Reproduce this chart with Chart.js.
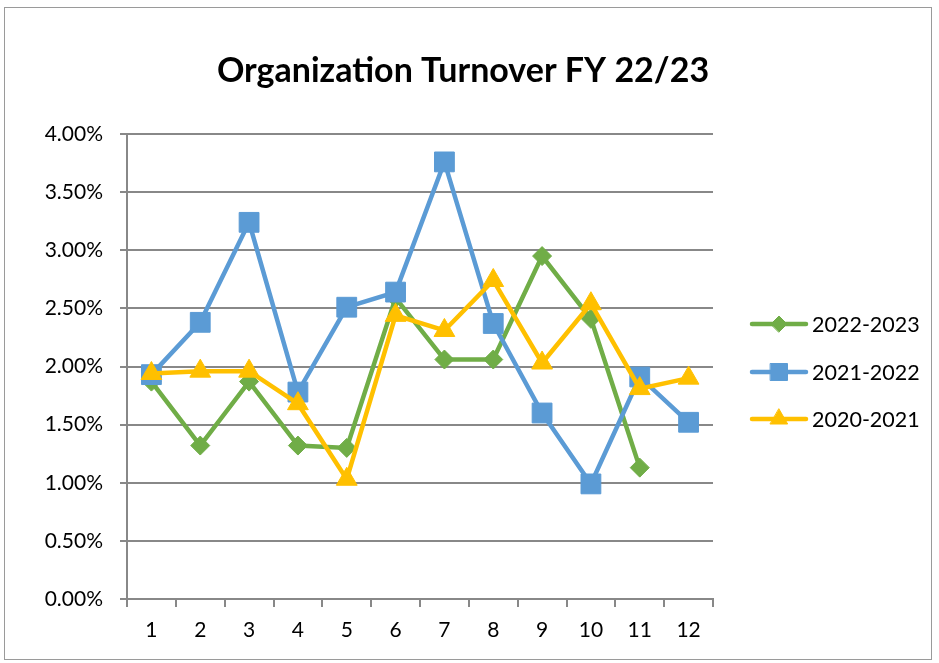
<!DOCTYPE html>
<html>
<head>
<meta charset="utf-8">
<script src="https://cdn.jsdelivr.net/npm/chart.js@4.4.1/dist/chart.umd.min.js"></script>
<style>
html,body{margin:0;padding:0;background:#fff;}
#wrap{width:939px;height:663px;position:relative;}
</style>
</head>
<body>
<div id="wrap"><canvas id="c" width="939" height="663"></canvas></div>
<script>
const chartTitle = "Organization Turnover FY 22/23";
const months = ["1","2","3","4","5","6","7","8","9","10","11","12"];
const seriesNames = ["2022-2023","2021-2022","2020-2021"];
const fy2223 = [1.87,1.32,1.87,1.32,1.30,2.59,2.06,2.06,2.95,2.41,1.13,null];
const fy2122 = [1.93,2.38,3.24,1.78,2.51,2.64,3.76,2.37,1.60,0.99,1.91,1.52];
const fy2021 = [1.94,1.96,1.96,1.68,1.03,2.44,2.31,2.74,2.03,2.54,1.81,1.90];

const colors = ["#70AD47","#5B9BD5","#FFC000"];
const shapes = ["rectRot","rect","triangle"];
const radii = [9.5,14,12];
const FONT = "Lato, 'Liberation Sans', sans-serif";

const decor = {
  id:'decor',
  afterDraw(chart){
    const ctx = chart.ctx;
    ctx.save();
    ctx.strokeStyle = '#9a9a9a';
    ctx.lineWidth = 1;
    ctx.strokeRect(4.5,7.5,927,652);
    ctx.fillStyle = '#000';
    ctx.font = "bold 34px " + FONT;
    ctx.textAlign = 'center';
    ctx.textBaseline = 'middle';
    ctx.fillText(chartTitle, 463, 71);
    const ys = [324,372,419];
    chart.data.datasets.forEach((ds,i)=>{
      const y = ys[i];
      ctx.strokeStyle = ds.borderColor;
      ctx.lineWidth = 4.5;
      ctx.lineCap = 'round';
      ctx.beginPath(); ctx.moveTo(752,y); ctx.lineTo(806,y); ctx.stroke();
      ctx.fillStyle = ds.borderColor;
      ctx.lineWidth = 1;
      const r = [8,12,10][i];
      Chart.helpers.drawPoint(ctx,{pointStyle:ds.pointStyle,radius:r,rotation:0,borderWidth:1},779,y);
      ctx.fillStyle = '#000';
      ctx.font = "21.5px " + FONT;
      ctx.textAlign = 'left';
      ctx.fillText(ds.label, 812, y+1);
    });
    ctx.restore();
  }
};

const datasets = [fy2223,fy2122,fy2021].map((d,i)=>({
  label: seriesNames[i],
  data: d.map(v => v==null ? null : v/100),
  borderColor: colors[i],
  backgroundColor: colors[i],
  pointBackgroundColor: colors[i],
  pointBorderColor: colors[i],
  borderWidth: 4.5,
  pointStyle: shapes[i],
  pointRadius: radii[i],
  pointBorderWidth: 1,
  tension: 0,
  spanGaps: false,
  order: 2 - i
}));

new Chart(document.getElementById('c'), {
  type: 'line',
  data: { labels: months, datasets },
  options: {
    responsive: false,
    animation: false,
    devicePixelRatio: 1,
    layout: { padding: { left: 0, right: 226, top: 134, bottom: 0 } },
    plugins: { legend: { display: false }, title: { display: false }, tooltip: { enabled: false } },
    scales: {
      x: {
        offset: true,
        grid: { display: true, drawOnChartArea: false, drawTicks: true, tickLength: 8, color: '#888', lineWidth: 2, offset: true },
        border: { display: true, color: '#888', width: 2 },
        ticks: { color: '#000', font: { family: FONT, size: 21 }, padding: 11, maxRotation: 0 },
        afterFit(s){ s.height = 64; }
      },
      y: {
        min: 0, max: 0.04,
        grid: { color: '#888', lineWidth: 2, tickLength: 7, drawTicks: true },
        border: { display: true, color: '#888', width: 2 },
        ticks: { stepSize: 0.005, color: '#000', font: { family: FONT, size: 21 }, padding: 17,
          callback: v => (v*100).toFixed(2) + '%' },
        afterFit(s){ s.width = 127; }
      }
    }
  },
  plugins: [decor]
});
</script>
</body>
</html>
